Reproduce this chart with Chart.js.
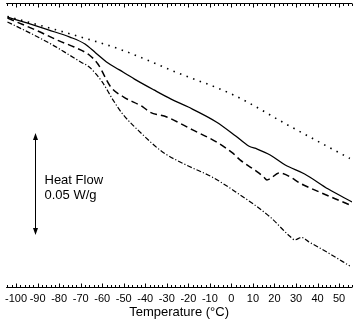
<!DOCTYPE html>
<html>
<head>
<meta charset="utf-8">
<script src="https://cdn.jsdelivr.net/npm/chart.js@4/dist/chart.umd.min.js"></script>
<style>
  body { margin: 0; background: #fff; }
  canvas { display: block; }
</style>
</head>
<body>
<canvas id="dscChart" width="354" height="326"></canvas>
<script>
// tick labels on the temperature axis
var tickTemps = [-100, -90, -80, -70, -60, -50, -40, -30, -20, -10, 0, 10, 20, 30, 40, 50];

// dotted curve
var dottedT  = [-104, -78, -51, -26, 1, 27, 55];
var dottedHF = [-0.0061, -0.0137, -0.0225, -0.0333, -0.0446, -0.0598, -0.0757];

// solid curve
var solidT  = [-104, -95, -85, -75, -68, -63, -58, -52, -45, -36, -28, -20, -7, 2, 8, 12, 18, 25, 34, 45, 56];
var solidHF = [-0.0064, -0.0093, -0.0127, -0.0162, -0.0196, -0.0240, -0.0284, -0.0323, -0.0368, -0.0421, -0.0466,
               -0.0505, -0.0578, -0.0647, -0.0696, -0.0711, -0.0740, -0.0789, -0.0833, -0.0907, -0.0970];

// dashed curve
var dashedT  = [-104, -90, -80, -73, -66, -62, -56, -50, -41, -38, -30, -18, -7, 0.5, 4, 12, 15, 16.5, 18.5, 22, 33.5, 55];
var dashedHF = [-0.0069, -0.0132, -0.0181, -0.0211, -0.0250, -0.0294, -0.0407, -0.0456, -0.0505, -0.0529, -0.0554,
                -0.0617, -0.0676, -0.0730, -0.0764, -0.0823, -0.0848, -0.0862, -0.0853, -0.0828, -0.0887, -0.0985];

// dash-dot curve
var dashDotT  = [-104, -93, -83, -70, -66, -60, -55, -50.5, -42, -32, -21, -9, 2, 18, 27, 29.5, 32.5, 36, 45, 55];
var dashDotHF = [-0.0088, -0.0145, -0.0201, -0.0284, -0.0309, -0.0382, -0.0470, -0.0539, -0.0632, -0.0725, -0.0789,
                 -0.0848, -0.0921, -0.1044, -0.1137, -0.1156, -0.1144, -0.1166, -0.1220, -0.1284];

// scale bar: 0.05 W/g
var barTemp = -91;
var barTop = -0.0632;
var barSize = 0.05;

function toPoints(xs, ys) {
  return xs.map(function (x, i) { return { x: x, y: ys[i] }; });
}

function curve(xs, ys, dash, width) {
  return {
    data: toPoints(xs, ys),
    borderColor: '#000',
    borderWidth: width,
    borderDash: dash,
    pointRadius: 0,
    fill: false,
    cubicInterpolationMode: 'monotone'
  };
}

// inward ticks on the top and bottom frame lines
var frameTicks = {
  id: 'frameTicks',
  afterDraw: function (chart) {
    var ctx = chart.ctx;
    var area = chart.chartArea;
    var xs = chart.scales.x;
    var topY = area.top - 0.5;
    var botY = area.bottom + 0.5;
    ctx.save();
    ctx.strokeStyle = '#000';
    ctx.lineWidth = 1;
    ctx.beginPath();
    ctx.moveTo(area.left, topY); ctx.lineTo(area.right, topY);
    ctx.moveTo(area.left, botY); ctx.lineTo(area.right, botY);
    for (var t = -104; t <= 56; t += 2) {
      var px = Math.round(xs.getPixelForValue(t)) + 0.5;
      var len = (t % 10 === 0) ? 4 : 2.5;
      ctx.moveTo(px, topY); ctx.lineTo(px, topY + len);
      ctx.moveTo(px, botY); ctx.lineTo(px, botY - len);
    }
    ctx.stroke();

    // heat flow scale arrow
    var ax = Math.round(xs.getPixelForValue(barTemp)) + 0.5;
    var y1 = chart.scales.y.getPixelForValue(barTop);
    var y2 = chart.scales.y.getPixelForValue(barTop - barSize);
    ctx.beginPath();
    ctx.moveTo(ax, y1 + 4); ctx.lineTo(ax, y2 - 4);
    ctx.stroke();
    ctx.fillStyle = '#000';
    ctx.beginPath();
    ctx.moveTo(ax, y1); ctx.lineTo(ax - 2.5, y1 + 7); ctx.lineTo(ax + 2.5, y1 + 7); ctx.closePath();
    ctx.moveTo(ax, y2); ctx.lineTo(ax - 2.5, y2 - 7); ctx.lineTo(ax + 2.5, y2 - 7); ctx.closePath();
    ctx.fill();

    ctx.font = '13px "Liberation Sans", Arial, sans-serif';
    ctx.textBaseline = 'alphabetic';
    ctx.textAlign = 'left';
    ctx.fillText('Heat Flow', ax + 9, 184);
    ctx.fillText('0.05 W/g', ax + 9, 199);
    ctx.restore();
  }
};

var chart = new Chart(document.getElementById('dscChart'), {
  type: 'line',
  data: {
    datasets: [
      curve(dottedT, dottedHF, [1.5, 5.5], 1.6),
      curve(solidT, solidHF, [], 1.3),
      curve(dashedT, dashedHF, [7, 4], 1.5),
      curve(dashDotT, dashDotHF, [5, 2, 1.2, 2], 1.2)
    ]
  },
  options: {
    responsive: false,
    devicePixelRatio: 1,
    animation: false,
    layout: { padding: { left: 2, right: 2, top: 4, bottom: 0 } },
    plugins: { legend: { display: false }, tooltip: { enabled: false } },
    scales: {
      x: {
        type: 'linear',
        min: -104.6,
        max: 56,
        grid: { display: false, drawTicks: false },
        border: { display: false },
        afterBuildTicks: function (s) {
          s.ticks = tickTemps.map(function (v) { return { value: v }; });
        },
        afterFit: function (s) { s.height = 39; },
        ticks: {
          autoSkip: false,
          maxRotation: 0,
          padding: 5,
          color: '#000',
          font: { family: '"Liberation Sans", Arial, sans-serif', size: 11 }
        },
        title: {
          display: true,
          text: 'Temperature (°C)',
          color: '#000',
          font: { family: '"Liberation Sans", Arial, sans-serif', size: 13 },
          padding: { top: 0, bottom: 6 }
        }
      },
      y: {
        display: false,
        min: -0.1387,
        max: 0
      }
    }
  },
  plugins: [frameTicks]
});
</script>
</body>
</html>
